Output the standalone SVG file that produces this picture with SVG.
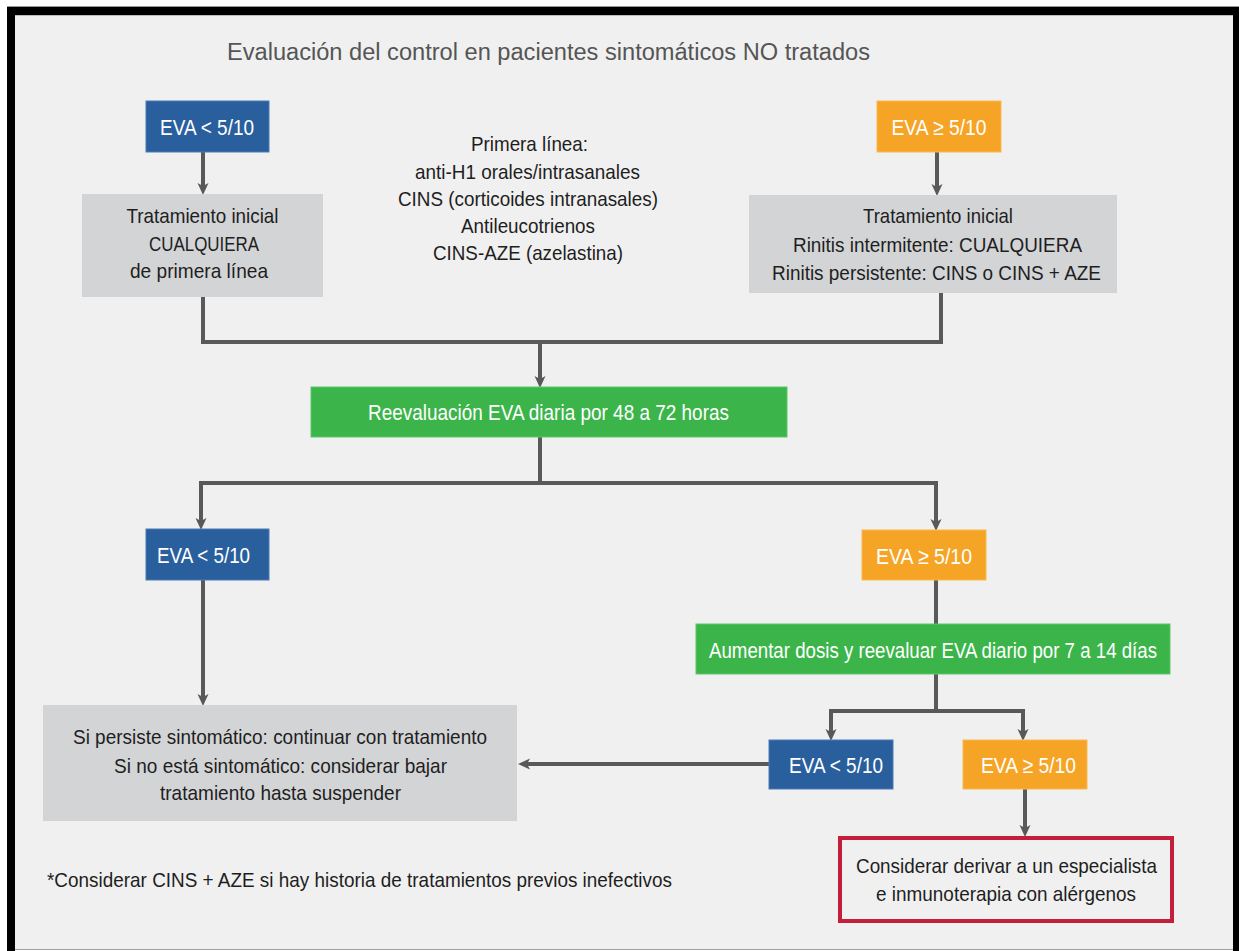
<svg xmlns="http://www.w3.org/2000/svg" width="1239" height="951" viewBox="0 0 1239 951">
<style>
text{font-family:"Liberation Sans",Arial,sans-serif;text-anchor:middle}
.t{font-size:21px;fill:#1e1e1e}
.w{font-size:22.5px;fill:#ffffff}
.title{font-size:23px;fill:#555555}
.blue{fill:#2a5f9e;stroke:#4a7bb5;stroke-width:1}
.orange{fill:#f6a425;stroke:#f8b850;stroke-width:1}
.green{fill:#3bb54a;stroke:#5cc56a;stroke-width:1}
.grey{fill:#d3d4d6}
.ln{fill:none;stroke:#595959;stroke-width:4}
.ar{fill:none;stroke:#595959;stroke-width:4;marker-end:url(#ah)}
</style>
<defs>
<marker id="ah" viewBox="0 0 12 12" refX="4" refY="6" markerWidth="12" markerHeight="12" orient="auto" markerUnits="userSpaceOnUse">
<path d="M0,0.5 L12,6 L0,11.5 L3,6 z" fill="#595959"/>
</marker>
</defs>
<rect x="0" y="0" width="1239" height="951" fill="#ffffff"/>
<rect x="7" y="6" width="1232" height="945" fill="#9a9a9a"/>
<rect x="7" y="7" width="1232" height="944" fill="#000000"/>
<rect x="15" y="15" width="1218" height="934" fill="#bdbdbd"/>
<rect x="15" y="16" width="1218" height="933" fill="#f0f0f0"/>
<rect x="15" y="949" width="1218" height="1" fill="#a0a0a0"/>
<rect x="15" y="950" width="1218" height="1" fill="#ffffff"/>

<text id="title" class="title" x="548.5" y="60" textLength="643" lengthAdjust="spacingAndGlyphs">Evaluación del control en pacientes sintomáticos NO tratados</text>

<g id="connectors">
<path class="ar" d="M203,152 V187"/>
<path class="ar" d="M937,152 V188"/>
<path class="ln" d="M203,297 V342 H941 V293"/>
<path class="ar" d="M540,342 V380"/>
<path class="ln" d="M540,437 V483"/>
<path class="ln" d="M201,483 H936"/>
<path class="ar" d="M201,481 V522"/>
<path class="ar" d="M936,481 V523"/>
<path class="ar" d="M203,580 V698"/>
<path class="ln" d="M936,580 V624"/>
<path class="ln" d="M936,674 V711"/>
<path class="ln" d="M831,711 H1023"/>
<path class="ar" d="M831,709 V733"/>
<path class="ar" d="M1023,709 V733"/>
<path class="ar" d="M1025,789 V829"/>
<path class="ar" d="M769,764 H526"/>
</g>

<g id="eva-low-1">
<rect class="blue" x="146" y="101" width="123" height="51"/>
<text class="w" x="207" y="135" textLength="94" lengthAdjust="spacingAndGlyphs">EVA &lt; 5/10</text>
</g>

<g id="eva-high-1">
<rect class="orange" x="877" y="101" width="124" height="51"/>
<text class="w" x="939" y="135" textLength="95" lengthAdjust="spacingAndGlyphs">EVA ≥ 5/10</text>
</g>

<g id="trat-left">
<rect class="grey" x="82" y="194" width="241" height="103"/>
<text class="t" x="202.5" y="223" textLength="152" lengthAdjust="spacingAndGlyphs">Tratamiento inicial</text>
<text class="t" x="204" y="251" textLength="110" lengthAdjust="spacingAndGlyphs">CUALQUIERA</text>
<text class="t" x="199" y="278" textLength="138" lengthAdjust="spacingAndGlyphs">de primera línea</text>
</g>

<g id="primera-linea">
<text class="t" x="529.5" y="151" textLength="117" lengthAdjust="spacingAndGlyphs">Primera línea:</text>
<text class="t" x="527.5" y="179" textLength="225" lengthAdjust="spacingAndGlyphs">anti-H1 orales/intrasanales</text>
<text class="t" x="528" y="206" textLength="260" lengthAdjust="spacingAndGlyphs">CINS (corticoides intranasales)</text>
<text class="t" x="528" y="233" textLength="134" lengthAdjust="spacingAndGlyphs">Antileucotrienos</text>
<text class="t" x="528" y="260" textLength="190" lengthAdjust="spacingAndGlyphs">CINS-AZE (azelastina)</text>
</g>

<g id="trat-right">
<rect class="grey" x="749" y="195" width="368" height="98"/>
<text class="t" x="938" y="223" textLength="150" lengthAdjust="spacingAndGlyphs">Tratamiento inicial</text>
<text class="t" x="937.5" y="252" textLength="289" lengthAdjust="spacingAndGlyphs">Rinitis intermitente: CUALQUIERA</text>
<text class="t" x="936.5" y="280" textLength="329" lengthAdjust="spacingAndGlyphs">Rinitis persistente: CINS o CINS + AZE</text>
</g>

<g id="reevaluacion">
<rect class="green" x="311" y="387" width="476" height="50"/>
<text class="w" x="548.5" y="420" textLength="361" lengthAdjust="spacingAndGlyphs">Reevaluación EVA diaria por 48 a 72 horas</text>
</g>

<g id="eva-low-2">
<rect class="blue" x="146" y="529" width="123" height="51"/>
<text class="w" x="203.5" y="563" textLength="93" lengthAdjust="spacingAndGlyphs">EVA &lt; 5/10</text>
</g>

<g id="eva-high-2">
<rect class="orange" x="862" y="530" width="124" height="50"/>
<text class="w" x="924" y="564" textLength="96" lengthAdjust="spacingAndGlyphs">EVA ≥ 5/10</text>
</g>

<g id="aumentar">
<rect class="green" x="696" y="624" width="474" height="50"/>
<text class="w" x="933" y="658" font-size="22" textLength="448" lengthAdjust="spacingAndGlyphs">Aumentar dosis y reevaluar EVA diario por 7 a 14 días</text>
</g>

<g id="continuar">
<rect class="grey" x="43" y="705" width="474" height="116"/>
<text class="t" x="280" y="744" textLength="414" lengthAdjust="spacingAndGlyphs">Si persiste sintomático: continuar con tratamiento</text>
<text class="t" x="280.5" y="773" textLength="333" lengthAdjust="spacingAndGlyphs">Si no está sintomático: considerar bajar</text>
<text class="t" x="280.5" y="800" textLength="241" lengthAdjust="spacingAndGlyphs">tratamiento hasta suspender</text>
</g>

<g id="eva-low-3">
<rect class="blue" x="769" y="740" width="124" height="49"/>
<text class="w" x="836" y="773" textLength="94" lengthAdjust="spacingAndGlyphs">EVA &lt; 5/10</text>
</g>

<g id="eva-high-3">
<rect class="orange" x="963" y="740" width="124" height="49"/>
<text class="w" x="1028.5" y="773" textLength="95" lengthAdjust="spacingAndGlyphs">EVA ≥ 5/10</text>
</g>

<g id="derivar">
<rect x="840" y="838" width="332" height="83" fill="#f0f0f0" stroke="#c41e3a" stroke-width="4"/>
<text class="t" x="1006.5" y="873" textLength="301" lengthAdjust="spacingAndGlyphs">Considerar derivar a un especialista</text>
<text class="t" x="1006" y="901" textLength="260" lengthAdjust="spacingAndGlyphs">e inmunoterapia con alérgenos</text>
</g>

<g id="footnote">
<text class="t" x="359.5" y="887" textLength="625" lengthAdjust="spacingAndGlyphs">*Considerar CINS + AZE si hay historia de tratamientos previos inefectivos</text>
</g>
</svg>
